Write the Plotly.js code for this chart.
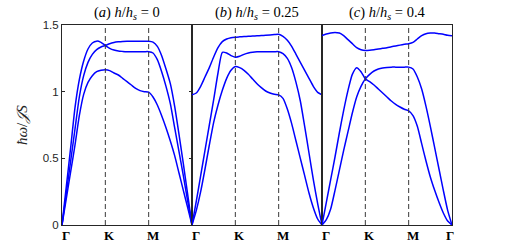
<!DOCTYPE html>
<html><head><meta charset="utf-8">
<script src="https://cdn.plot.ly/plotly-3.0.1.min.js"></script>
<style>html,body{margin:0;padding:0;background:#fff}#chart{width:519px;height:250px}</style>
</head><body><div id="chart"></div>
<script>
// path coordinate along Γ-K-M-Γ (equal segment lengths)
const kpath = [0,0.1,0.2,0.3,0.4,0.5,0.6,0.7,0.8,0.9,1.0,1.1,1.2,1.3,1.4,1.5,1.6,1.7,1.8,1.9,2.0,2.1,2.2,2.3,2.4,2.5,2.6,2.7,2.8,2.9,3.0];

// (a) h/hs = 0
const a_band1 = [0,0.29,0.58,0.88,1.09,1.23,1.32,1.365,1.379,1.37,1.346,1.325,1.312,1.305,1.302,1.30,1.30,1.30,1.30,1.30,1.30,1.29,1.24,1.15,1.04,0.91,0.73,0.55,0.37,0.18,0];
const a_band2 = [0,0.24,0.48,0.72,0.96,1.12,1.22,1.28,1.315,1.335,1.346,1.36,1.369,1.374,1.377,1.378,1.378,1.378,1.378,1.378,1.378,1.372,1.34,1.27,1.17,1.06,0.89,0.68,0.46,0.23,0];
const a_band3 = [0,0.20,0.40,0.60,0.82,0.98,1.07,1.12,1.15,1.16,1.164,1.158,1.14,1.125,1.10,1.075,1.05,1.025,1.008,1.0,0.996,0.96,0.90,0.82,0.73,0.63,0.52,0.39,0.26,0.13,0];

// (b) h/hs = 0.25
const b_band1 = [0.977,0.99,1.04,1.11,1.18,1.26,1.33,1.375,1.395,1.405,1.409,1.411,1.413,1.415,1.417,1.419,1.421,1.423,1.425,1.428,1.43,1.415,1.385,1.34,1.28,1.22,1.16,1.10,1.04,0.995,0.977];
const b_band2 = [0,0.18,0.37,0.56,0.75,0.94,1.14,1.295,1.29,1.27,1.259,1.265,1.28,1.29,1.296,1.299,1.30,1.30,1.30,1.30,1.30,1.285,1.25,1.18,1.07,0.93,0.74,0.54,0.34,0.16,0];
const b_band3 = [0,0.11,0.25,0.42,0.60,0.77,0.90,1.01,1.10,1.16,1.189,1.18,1.16,1.13,1.095,1.06,1.03,1.005,0.99,0.98,0.976,0.95,0.87,0.76,0.63,0.50,0.37,0.24,0.13,0.045,0];

// (c) h/hs = 0.4
const c_band1 = [1.42,1.432,1.44,1.443,1.44,1.42,1.39,1.36,1.33,1.315,1.309,1.311,1.315,1.32,1.325,1.33,1.337,1.343,1.349,1.355,1.36,1.37,1.395,1.42,1.435,1.44,1.44,1.435,1.43,1.423,1.42];
const c_band2 = [0,0.17,0.34,0.51,0.69,0.86,1.01,1.13,1.18,1.15,1.096,1.075,1.05,1.02,0.99,0.96,0.93,0.905,0.885,0.868,0.856,0.82,0.74,0.61,0.48,0.36,0.26,0.17,0.09,0.03,0];
const c_band3 = [0,0.04,0.12,0.26,0.41,0.56,0.70,0.84,0.96,1.04,1.096,1.13,1.155,1.17,1.178,1.182,1.184,1.184,1.184,1.184,1.184,1.17,1.11,1.02,0.89,0.74,0.58,0.42,0.26,0.11,0];

const panelTitles = [
  '(<i>a</i>) <i>h</i>/<i>h</i><sub><i>s</i></sub> = 0',
  '(<i>b</i>) <i>h</i>/<i>h</i><sub><i>s</i></sub> = 0.25',
  '(<i>c</i>) <i>h</i>/<i>h</i><sub><i>s</i></sub> = 0.4'
];
const symPos = [0,1,2,3];
const symLabels = ['Γ','K','M','Γ'];
const dashedAt = [1,2];
const yTicks = [0,0.5,1,1.5];
const yTickText = ['0','0.5','1','1.5'];
const yRange = [0,1.5];
const yTitle = '<i>ħω</i>/<i>𝒥S</i>';

const serif = 'Liberation Serif';
const panels = [[a_band1,a_band2,a_band3],[b_band1,b_band2,b_band3],[c_band1,c_band2,c_band3]];
const axSuffix = ['','2','3'];
const lineColor = '#262626';

const traces = [];
panels.forEach((bands,p)=>{
  bands.forEach(b=>{
    traces.push({x:kpath,y:b,xaxis:'x'+axSuffix[p],yaxis:'y'+axSuffix[p],type:'scatter',mode:'lines',
      line:{color:'#0000ff',width:1.5,shape:'spline',smoothing:0.6},hoverinfo:'skip',showlegend:false});
  });
});

const shapes = [];
const annotations = [];
panels.forEach((bands,p)=>{
  dashedAt.forEach(v=>{
    shapes.push({type:'line',xref:'x'+axSuffix[p],yref:'y'+axSuffix[p],x0:v,x1:v,y0:yRange[0],y1:yRange[1],
      line:{color:'#3a3a3a',width:1,dash:'5px,3px'},layer:'above'});
  });
  annotations.push({xref:'x'+axSuffix[p]+' domain',yref:'paper',x:0.5,y:1,xanchor:'center',yanchor:'bottom',yshift:1,
    text:panelTitles[p],showarrow:false,font:{family:serif,size:14.5,color:'#000'}});
  const n = (p===2)?4:3;
  for(let i=0;i<n;i++){
    annotations.push({xref:'x'+axSuffix[p],yref:'paper',x:symPos[i],y:0,xanchor:'center',yanchor:'top',
      xshift:(i===3)?-2:4,yshift:-1,text:'<b>'+symLabels[i]+'</b>',showarrow:false,
      font:{family:serif,size:13,color:'#000'}});
  }
});
// y-axis title as rotated annotation
annotations.push({xref:'paper',yref:'paper',x:0,y:0.5,xanchor:'center',yanchor:'middle',xshift:-40,textangle:-90,
  text:yTitle,showarrow:false,font:{family:serif,size:15,color:'#262626'}});

const baseX = {range:[0,3],showline:true,mirror:true,linecolor:lineColor,linewidth:1,ticks:'',showticklabels:false,
  showgrid:false,zeroline:false,fixedrange:true};
const baseY = {range:yRange,showline:true,mirror:true,linecolor:lineColor,linewidth:1,showgrid:false,zeroline:false,fixedrange:true};

const layout = {
  width:519,height:250,margin:{l:62,r:67,t:25,b:25},paper_bgcolor:'#fff',plot_bgcolor:'#fff',
  showlegend:false,
  xaxis:Object.assign({},baseX,{domain:[0,1/3],anchor:'y'}),
  xaxis2:Object.assign({},baseX,{domain:[1/3,2/3],anchor:'y2'}),
  xaxis3:Object.assign({},baseX,{domain:[2/3,1],anchor:'y3'}),
  yaxis:Object.assign({},baseY,{domain:[0,1],anchor:'x',tickvals:yTicks,ticktext:yTickText,ticks:'inside',ticklen:3,
    tickcolor:lineColor,mirror:'ticks',tickfont:{family:'Liberation Sans',size:11.5,color:'#262626'}}),
  yaxis2:Object.assign({},baseY,{domain:[0,1],anchor:'x2',showticklabels:false,ticks:''}),
  yaxis3:Object.assign({},baseY,{domain:[0,1],anchor:'x3',showticklabels:false,ticks:''}),
  shapes:shapes,annotations:annotations
};
Plotly.newPlot('chart',traces,layout,{staticPlot:true,displayModeBar:false});
</script></body></html>
